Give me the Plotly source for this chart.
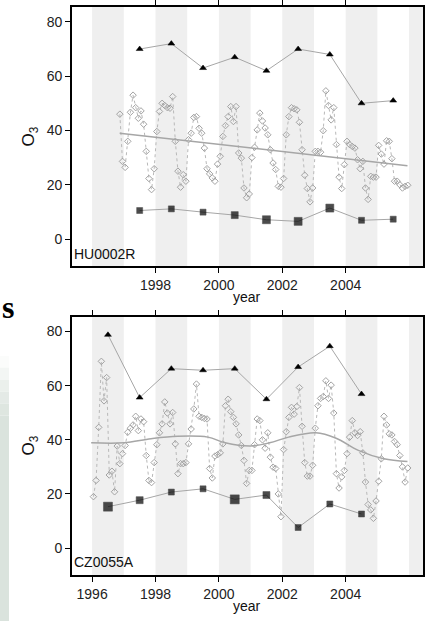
import plotly.graph_objects as go

# ---------------- data ----------------
# HU0002R (top panel)
hu_years = [1997, 1998, 1999, 2000, 2001, 2002, 2003, 2004, 2005]
hu_high = [70, 72, 63, 67, 62, 70, 68, 50, 51]
hu_low = [10.5, 11.1, 9.9, 8.8, 7.1, 6.5, 11.4, 6.9, 7.3]
hu_trend_x = [1996.87, 2005.95]
hu_trend_y = [39.0, 27.0]
hu_start = (1996, 11)
hu_monthly = [
    46, 28.6,
    26.4, 36, 46.7, 53, 48.4, 44.5, 47.2, 42.3, 32.3, 22.3, 18.2, 25.9,
    39.6, 47, 50, 49.2, 48.4, 48.2, 52.5, 36, 25, 19.1, 23.7, 21.3,
    36.6, 39, 44.8, 45.1, 40.8, 39, 33.5, 25.9, 24, 22.5, 21.3, 27.6,
    30.5, 37.8, 41.8, 45.1, 48.8, 43.3, 48.8, 31.7, 29.8, 18.8, 15.2, 16.6,
    30, 33.8, 40.2, 46.4, 43.5, 40.9, 38.4, 32.9, 28, 25.6, 19.4, 19.1,
    22.3, 38.4, 45.1, 48.4, 48, 47.6, 43, 32.9, 23.5, 18.6, 13.7, 18.8,
    32.3, 32.3, 32, 39.9, 54.6, 49.2, 43.9, 48.4, 34.8, 22.8, 18.6, 27.4,
    36, 34.8, 34.1, 33.5, 29.2, 25.9, 28.6, 18.8, 14.6, 23.1, 22.8, 22.8,
    34.5, 31.3, 27.6, 36.2, 36, 29.6, 21.3, 21.3, 20, 18.8, 19.4, 19.8,
]

# CZ0055A (bottom panel)
cz_years = [1996, 1997, 1998, 1999, 2000, 2001, 2002, 2003, 2004]
cz_high = [78.8, 55.6, 66.3, 65.7, 66.3, 55, 66.9, 74.6, 56.9]
cz_low = [15.3, 17.7, 20.7, 21.9, 18, 19.6, 7.6, 16.3, 12.6]
cz_trend_x = [1995.97, 1997.0, 1997.86, 1998.7, 1999.65, 2000.2, 2001.0, 2001.6,
              2002.2, 2003.06, 2003.7, 2004.4, 2005.2, 2005.95]
cz_trend_y = [38.9, 38.9, 40.4, 41.3, 41.0, 38.9, 37.7, 38.9,
              41.0, 42.6, 40.6, 36.1, 33.0, 32.0]
cz_start = (1996, 1)
cz_monthly = [
    19, 25, 44.6, 69, 54.4, 63, 27, 28.4, 20.8, 37.7, 31.2, 34.9,
    37.9, 42.8, 44.3, 45.5, 48.7, 43.4, 47.7, 46.7, 34.2, 25, 24.2, 31.6,
    38.2, 42.6, 45.9, 54, 49.9, 45.9, 50.1, 38.5, 27.5, 31.2, 31.2, 31.6,
    38.5, 44, 51.4, 60.6, 48.7, 48.3, 47.9, 47.7, 29.4, 25.9, 34, 34.5,
    35.2, 38.5, 52.6, 55, 50.4, 48.3, 45.9, 41.8, 37.9, 32.4, 23.9, 28.7,
    28.7, 38.2, 47.7, 47.1, 40, 36.9, 42.6, 33.6, 29.9, 29.4, 20, 11.6,
    36.4, 43, 48.3, 52, 49.5, 52.3, 59.3, 45, 31.6, 26.6, 26.6, 30.6,
    44.3, 52.6, 55.3, 56, 61.8, 55.3, 60.2, 49.9, 27.5, 22.2, 26.3, 28.7,
    34.9, 41, 47.1, 42.6, 41.6, 43, 35.2, 24.4, 16.1, 14.1, 11, 17.4,
    24.7, 33, 48.7, 45.5, 42.2, 41.8, 39.4, 38.2, 34.2, 30, 24.4, 29.6,
]

shaded_years = [1996, 1998, 2000, 2002, 2004, 2006]
y_ticks = [0, 20, 40, 60, 80]
hu_xticks = [1998, 2000, 2002, 2004]
cz_xticks = [1996, 1998, 2000, 2002, 2004]
stations = ["HU0002R", "CZ0055A"]

# ---------------- styles ----------------
hu_low_sizes = [6, 6, 6, 7, 8, 8, 8, 6, 6]
cz_low_sizes = [9, 7, 6, 6, 9, 7, 6, 6, 6]
X_RANGE = [1995.36, 2006.44]
Y_RANGE = [-10, 85.5]
GREY = "#a6a6a6"


def month_x(start, n):
    y0, m0 = start
    out = []
    for i in range(n):
        k = (m0 - 1) + i
        out.append(y0 + k // 12 + ((k % 12) + 0.5) / 12)
    return out


fig = go.Figure()


def add_panel(xa, ya, start, monthly, tx, ty, spline, years, high, low, low_sizes):
    mx = month_x(start, len(monthly))
    fig.add_trace(go.Scatter(
        x=mx, y=monthly, mode="lines+markers", xaxis=xa, yaxis=ya,
        line=dict(color="#b8b8b8", width=1, dash="dot"),
        marker=dict(symbol="diamond-open", size=5, color="#a3a3a3", line=dict(width=1)),
        showlegend=False, hoverinfo="skip"))
    fig.add_trace(go.Scatter(
        x=tx, y=ty, mode="lines", xaxis=xa, yaxis=ya,
        line=dict(color=GREY, width=1.5, shape="spline" if spline else "linear"),
        showlegend=False, hoverinfo="skip"))
    ax = [yr + 0.5 for yr in years]
    fig.add_trace(go.Scatter(
        x=ax, y=high, mode="lines+markers", xaxis=xa, yaxis=ya,
        line=dict(color=GREY, width=1),
        marker=dict(symbol="triangle-up", size=6, color="black",
                    line=dict(color="black", width=0.5)),
        showlegend=False, hoverinfo="skip"))
    fig.add_trace(go.Scatter(
        x=ax, y=low, mode="lines+markers", xaxis=xa, yaxis=ya,
        line=dict(color=GREY, width=1),
        marker=dict(symbol="square", size=low_sizes, color="black",
                    line=dict(color="black", width=0.5)),
        showlegend=False, hoverinfo="skip"))
    for s in shaded_years:
        fig.add_shape(type="rect", xref=xa, yref=ya + " domain",
                      x0=s, x1=min(s + 1, X_RANGE[1]), y0=0, y1=1,
                      fillcolor="#efefef", line=dict(width=0), layer="below")


add_panel("x", "y", hu_start, hu_monthly, hu_trend_x, hu_trend_y, False,
          hu_years, hu_high, hu_low, hu_low_sizes)
add_panel("x2", "y2", cz_start, cz_monthly, cz_trend_x, cz_trend_y, True,
          cz_years, cz_high, cz_low, cz_low_sizes)

W, H = 425, 621
XD = [72 / W, 424 / W]
TOP_D = [1 - 265 / H, 1 - 5 / H]
BOT_D = [1 - 575 / H, 1 - 315.7 / H]

tickfont = dict(family="Liberation Sans, Arial, sans-serif", size=14, color="#222")
xcommon = dict(range=X_RANGE, showgrid=False, zeroline=False, showline=True,
               linecolor="black", linewidth=1.5, mirror="ticks", ticks="outside",
               ticklen=5, tickwidth=1.2, tickcolor="black", tickfont=tickfont,
               domain=XD)
ycommon = dict(range=Y_RANGE, showgrid=False, zeroline=False, showline=True,
               linecolor="black", linewidth=1.5, mirror=True, ticks="outside",
               ticklen=5, tickwidth=1.2, tickcolor="black", tickfont=tickfont,
               tickvals=y_ticks)

fig.update_layout(
    width=W, height=H, margin=dict(l=0, r=0, t=0, b=0),
    paper_bgcolor="white", plot_bgcolor="white",
    xaxis=dict(xcommon, anchor="y", tickvals=hu_xticks),
    yaxis=dict(ycommon, anchor="x", domain=TOP_D),
    xaxis2=dict(xcommon, anchor="y2", tickvals=cz_xticks),
    yaxis2=dict(ycommon, anchor="x2", domain=BOT_D),
)

lab = dict(family="Liberation Sans, Arial, sans-serif", size=14, color="#111")
o3font = dict(family="Liberation Sans, Arial, sans-serif", size=17, color="#111")
anns = []
for i, (yy_year, yy_o3, yy_st) in enumerate([(296, 135, 253), (606, 445, 562)]):
    anns.append(dict(text="year", x=248 / W, y=1 - yy_year / H, xref="paper", yref="paper",
                     showarrow=False, font=lab, xanchor="center", yanchor="middle"))
    anns.append(dict(text="O<sub>3</sub>", x=30 / W, y=1 - yy_o3 / H, xref="paper", yref="paper",
                     showarrow=False, font=o3font, textangle=-90, xanchor="center", yanchor="middle"))
    anns.append(dict(text=stations[i], x=72 / W, y=1 - yy_st / H, xref="paper", yref="paper",
                     showarrow=False, font=lab, xanchor="left", yanchor="middle"))
# stray page fragment visible at the left edge of the crop
anns.append(dict(text="<b>s</b>", x=0, y=1 - 306 / H, xref="paper", yref="paper",
                 showarrow=False, xanchor="left", yanchor="middle",
                 font=dict(family="Liberation Serif, serif", size=32, color="black")))
fig.update_layout(annotations=anns)

steps = ["#fbfcfb", "#f3f6f4", "#ebf0ec", "#e4eae6", "#dee6e0", "#dae3dd"]
for k, c in enumerate(steps):
    y0 = 355 + k * 12
    y1 = 355 + (k + 1) * 12 if k < len(steps) - 1 else H
    fig.add_shape(type="rect", xref="paper", yref="paper", x0=0, x1=9 / W,
                  y0=1 - y1 / H, y1=1 - y0 / H, fillcolor=c, line=dict(width=0), layer="below")

fig.write_html("out.html")
